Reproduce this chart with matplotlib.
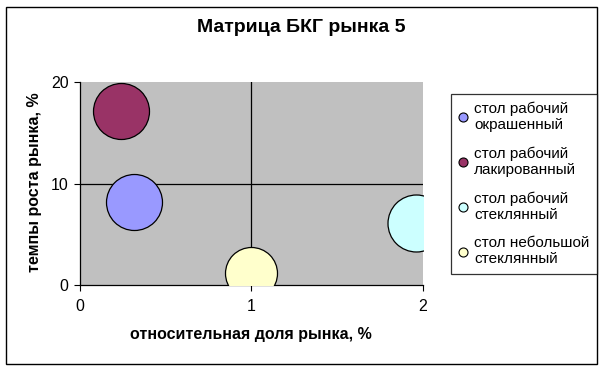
import numpy as np
import matplotlib.pyplot as plt
from matplotlib.patches import Rectangle
from matplotlib.lines import Line2D

plt.rcParams['font.family'] = ['Liberation Sans', 'DejaVu Sans']

# data
products = ['стол рабочий\nокрашенный', 'стол рабочий\nлакированный',
            'стол рабочий\nстеклянный', 'стол небольшой\nстеклянный']
share = [0.32, 0.24, 1.96, 1.0]        # relative market share
growth = [8.2, 17.1, 6.1, 1.2]         # market growth rate
bubble = [28, 28, 28.5, 26]            # bubble radius (px)
colors = ['#9999FF', '#993366', '#CCFFFF', '#FFFFCC']

W, H = 604, 370
fig = plt.figure(figsize=(W / 100, H / 100), dpi=100)

# outer chart frame
fig.patches.append(Rectangle((6 / W, 1 - 364 / H), 591 / W, 357 / H, transform=fig.transFigure,
                             fill=False, edgecolor='black', linewidth=1))

ax = fig.add_axes([79.5 / W, 1 - 285 / H, 343.5 / W, 203 / H])
ax.set_facecolor('#C0C0C0')
ax.set_xlim(0, 2)
ax.set_ylim(0, 20)
ax.axvline(1, color='black', lw=0.9, zorder=1)
ax.axhline(10, color='black', lw=0.9, zorder=1)

px2pt = 0.72
for x, y, r, c in zip(share, growth, bubble, colors):
    ax.scatter([x], [y], s=(2 * r * px2pt) ** 2, color=c, edgecolor='black', linewidth=0.9, zorder=3)

ax.set_xticks([0, 1, 2])
ax.set_yticks([0, 10, 20])
ax.tick_params(axis='both', labelsize=11.5, length=4, width=0.8, direction='out')
ax.tick_params(axis='x', pad=6)
ax.tick_params(axis='y', pad=4)
for s in ['top', 'right']:
    ax.spines[s].set_visible(False)
for s in ['left', 'bottom']:
    ax.spines[s].set_linewidth(0.9)

ax.set_xlabel('относительная доля рынка, %', fontsize=11.5, fontweight='bold', va='center')
ax.set_ylabel('темпы роста рынка, %', fontsize=11.5, fontweight='bold', va='center')
ax.xaxis.set_label_coords(251 / W, 1 - 335 / H, transform=fig.transFigure)
ax.yaxis.set_label_coords(35 / W, 1 - 182 / H, transform=fig.transFigure)

fig.text(301 / W, 1 - 27 / H, 'Матрица БКГ рынка 5', ha='center', va='center',
         fontsize=14, fontweight='bold')

handles = [Line2D([], [], marker='o', linestyle='none', markersize=6.5, markerfacecolor=c,
                  markeredgecolor='black', markeredgewidth=0.8) for c in colors]
leg = fig.legend(handles, products, loc='upper left', bbox_to_anchor=(451 / W, 1 - 94 / H),
                 fontsize=11, frameon=True, fancybox=False, edgecolor='black',
                 handlelength=0.6, handletextpad=0.4, labelspacing=0.95, borderpad=0.5,
                 borderaxespad=0)
leg.get_frame().set_linewidth(0.9)
for t in leg.get_texts():
    t.set_linespacing(1.18)

fig.savefig('out.png', dpi=100)
